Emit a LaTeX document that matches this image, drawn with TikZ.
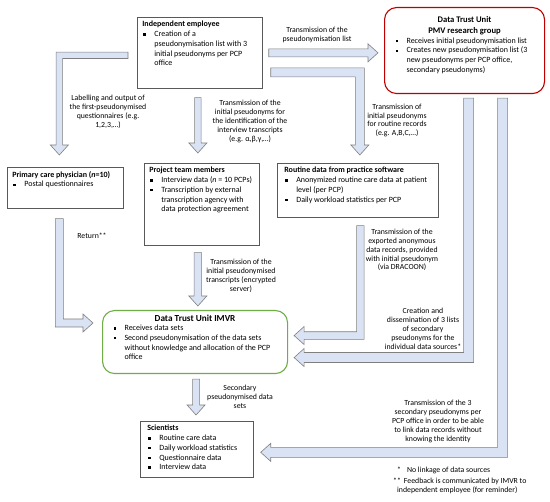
\documentclass[tikz,border=0pt]{standalone}
\usepackage{fontspec}
\setmainfont{Carlito}
\usepackage{tikz}
\usetikzlibrary{calc}

\definecolor{arrowblue}{HTML}{DAE3F3}
\definecolor{arrowgray}{HTML}{7F7F7F}
\definecolor{boxgray}{HTML}{595959}
\definecolor{pmvred}{HTML}{C00000}
\definecolor{imvrgreen}{HTML}{70AD47}

\newcommand{\boxfont}{\fontsize{8}{9.7}\selectfont}
\newcommand{\lblfont}{\fontsize{7.8}{8.9}\selectfont}
\newcommand{\sqb}{\rule[0.3ex]{2.2pt}{2.2pt}}
\newcommand{\bitem}[1]{\par\noindent\makebox[12pt][l]{\hspace{1pt}\sqb}\parbox[t]{\hsize}{\raggedright\strut #1\strut}}
\newcommand{\boxtext}[3]{\parbox[t][#2][t]{#1}{\raggedright\lineskip=0pt #3}}
\newcommand{\headw}{9pt}
\newcommand{\headl}{10pt}

% block arrows: start point, tip
\newcommand{\blockright}[3][4pt]{\draw[blockarrow] let \p1=(#2), \p2=(#3) in
  (\x1,\y1+#1) -- (\x2-\headl,\y1+#1) -- (\x2-\headl,\y1+\headw) -- (\x2,\y1)
  -- (\x2-\headl,\y1-\headw) -- (\x2-\headl,\y1-#1) -- (\x1,\y1-#1) -- cycle;}
\newcommand{\blockdown}[3][3.5pt]{\draw[blockarrow] let \p1=(#2), \p2=(#3) in
  (\x1-#1,\y1) -- (\x1-#1,\y2+\headl) -- (\x1-\headw,\y2+\headl) -- (\x1,\y2)
  -- (\x1+\headw,\y2+\headl) -- (\x1+#1,\y2+\headl) -- (\x1+#1,\y1) -- cycle;}
\newcommand{\blockleftdown}[3][3.5pt]{\draw[blockarrow] let \p1=(#2), \p2=(#3) in
  (\x1,\y1+#1) -- (\x2-#1,\y1+#1) -- (\x2-#1,\y2+\headl) -- (\x2-\headw,\y2+\headl) -- (\x2,\y2)
  -- (\x2+\headw,\y2+\headl) -- (\x2+#1,\y2+\headl) -- (\x2+#1,\y1-#1) -- (\x1,\y1-#1) -- cycle;}
\newcommand{\blockrightdown}[3][4pt]{\draw[blockarrow] let \p1=(#2), \p2=(#3) in
  (\x1,\y1+#1) -- (\x2+#1,\y1+#1) -- (\x2+#1,\y2+\headl) -- (\x2+\headw,\y2+\headl) -- (\x2,\y2)
  -- (\x2-\headw,\y2+\headl) -- (\x2-#1,\y2+\headl) -- (\x2-#1,\y1-#1) -- (\x1,\y1-#1) -- cycle;}
\newcommand{\blockdownleft}[3][4pt]{\draw[blockarrow] let \p1=(#2), \p2=(#3) in
  (\x1+#1,\y1) -- (\x1+#1,\y2-#1) -- (\x2+\headl,\y2-#1) -- (\x2+\headl,\y2-\headw) -- (\x2,\y2)
  -- (\x2+\headl,\y2+\headw) -- (\x2+\headl,\y2+#1) -- (\x1-#1,\y2+#1) -- (\x1-#1,\y1) -- cycle;}
\newcommand{\blockdownright}[3][4pt]{\draw[blockarrow] let \p1=(#2), \p2=(#3) in
  (\x1-#1,\y1) -- (\x1-#1,\y2-#1) -- (\x2-\headl,\y2-#1) -- (\x2-\headl,\y2-\headw) -- (\x2,\y2)
  -- (\x2-\headl,\y2+\headw) -- (\x2-\headl,\y2+#1) -- (\x1+#1,\y2+#1) -- (\x1+#1,\y1) -- cycle;}

\tikzset{
  databox/.style={draw=boxgray, line width=0.7pt, fill=white, inner xsep=5pt, inner ysep=4pt, anchor=north west, font=\boxfont},
  trustbox/.style={databox, rounded corners=12pt, line width=1.1pt},
  lbl/.style={align=center, font=\lblfont, inner sep=0pt},
  blockarrow/.style={draw=arrowgray, fill=arrowblue, line width=0.6pt, line join=miter},
}

\begin{document}
\begin{tikzpicture}[x=1pt,y=-1pt]
\useasboundingbox (0,0) rectangle (550,502);

% boxes
\node[databox] (emp) at (137,17) {\boxtext{115pt}{63pt}{\textbf{Independent employee}\bitem{Creation of a\newline pseudonymisation list with 3\newline initial pseudonyms per PCP\newline office}}};
\node[trustbox, draw=pmvred, inner xsep=10pt] (pmv) at (384,7) {\boxtext{140pt}{78pt}{\vspace{5pt}{\centering\fontsize{8.6}{11}\selectfont\bfseries Data Trust Unit\\ PMV research group\par}\bitem{Receives initial pseudonymisation list}\bitem{Creates new pseudonymisation list (3\newline new pseudonyms per PCP office,\newline secondary pseudonyms)}}};
\node[databox] (pcp) at (7,167) {\boxtext{106pt}{33pt}{\textbf{Primary care physician (\textit{n}=10)}\bitem{Postal questionnaires}}};
\node[databox] (proj) at (144,163) {\boxtext{105pt}{74pt}{\textbf{Project team members}\bitem{Interview data (\textit{n} = 10 PCPs)}\bitem{Transcription by external\newline transcription agency with\newline data protection agreement}}};
\node[databox, inner xsep=7pt] (rout) at (277,163) {\boxtext{147pt}{46pt}{\textbf{Routine data from practice software}\bitem{Anonymized routine care data at patient\newline level (per PCP)}\bitem{Daily workload statistics per PCP}}};
\node[trustbox, draw=imvrgreen, inner xsep=10pt] (imvr) at (102,310) {\boxtext{165pt}{55pt}{{\centering\fontsize{9.2}{11}\selectfont\bfseries Data Trust Unit IMVR\par}\bitem{Receives data sets}\bitem{Second pseudonymisation of the data sets\newline without knowledge and allocation of the PCP\newline office}}};
\node[databox, inner xsep=7pt] (sci) at (140,421) {\boxtext{99pt}{48pt}{\textbf{Scientists}\bitem{Routine care data}\bitem{Daily workload statistics}\bitem{Questionnaire data}\bitem{Interview data}}};

% arrows
\blockright{$(emp.east)+(6,0)$}{$(emp.east -| pmv.west)+(-6,0)$}
\blockleftdown[3.2pt]{$(emp.west)+(-9,2.5)$}{$(pcp.north)+(-6,-12)$}
\blockdown[3.2pt]{$(emp.south)+(-2,9)$}{$(proj.north)+(-4,-10)$}
\blockrightdown[4.5pt]{$(emp.east)+(8,19.5)$}{$(rout.north)+(2,-8)$}
\blockdownright{$(pcp.south)+(-6,10)$}{$(imvr.north west)+(-9,13)$}
\blockdown[3.8pt]{$(proj.south)+(-4,7)$}{$(proj.south |- imvr.north)+(-4,-4)$}
\blockdownleft[3.8pt]{$(rout.south)+(2.5,8)$}{$(imvr.east)+(6,-6.5)$}
\blockdownleft[5pt]{$(pmv.south)+(4,4)$}{$(imvr.east)+(6,15.5)$}
\blockdownleft[5pt]{$(pmv.south)+(38,4)$}{$(sci.east)+(7,3)$}
\blockdown[3.5pt]{$(imvr.south)+(1,5)$}{$(sci.north)+(-1,-6)$}

% labels
\node[lbl] (lList) at (317,35) {Transmission of the\\ pseudonymisation list};
\node[lbl] (lQuest) at (108,112) {Labelling and output of\\ the first-pseudonymised\\ questionnaires (e.g.\\ 1,2,3,\dots)};
\node[lbl] (lInter) at (250,121.5) {Transmission of the\\ initial pseudonyms for\\ the identification of the\\ interview transcripts\\ (e.g. α,β,γ,\dots)};
\node[lbl] (lRout) at (397,120.5) {Transmission of\\ initial pseudonyms\\ for routine records\\ (e.g. A,B,C,\dots)};
\node[lbl] (lRet) at (92,236) {Return**};
\node[lbl] (lTrans) at (241,276) {Transmission of the\\ initial pseudonymised\\ transcripts (encrypted\\ server)};
\node[lbl] (lExp) at (402,250) {Transmission of the\\ exported anonymous\\ data records, provided\\ with initial pseudonym\\ (via DRACOON)};
\node[lbl] (lCreat) at (423,329) {Creation and\\ dissemination of 3 lists\\ of secondary\\ pseudonyms for the\\ individual data sources*};
\node[lbl] (lLink) at (438,421.5) {Transmission of the 3\\ secondary pseudonyms per\\ PCP office in order to be able\\ to link data records without\\ knowing the identity};
\node[lbl] (lSec) at (240,396.5) {Secondary\\ pseudonymised data\\ sets};

% footnotes
\node[lbl, align=left, anchor=north west] (notes) at (393,467) {\hspace{4pt}*\hspace{6pt}No linkage of data sources\\[2pt] **\hspace{3pt}Feedback is communicated by IMVR to\\ \hspace{4pt}independent employee (for reminder)};
\end{tikzpicture}
\end{document}
